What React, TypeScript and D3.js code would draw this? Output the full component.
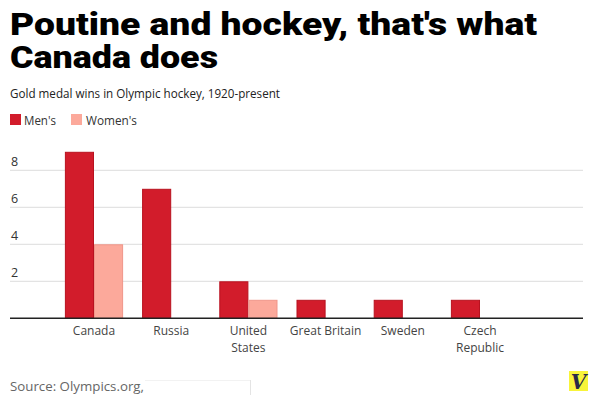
import React from "react";
import * as d3 from "d3";

const countries = ["Canada", "Russia", "United States", "Great Britain", "Sweden", "Czech Republic"];
const countryLabelLines = [["Canada"], ["Russia"], ["United", "States"], ["Great Britain"], ["Sweden"], ["Czech", "Republic"]];
const mensGold = [9, 7, 2, 1, 1, 1];
const womensGold = [4, 0, 1, 0, 0, 0];
const seriesNames = ["Men's", "Women's"];
const yTicks = [2, 4, 6, 8];
const titleLines = ["Poutine and hockey, that's what", "Canada does"];

const W = 599;
const H = 395;
const MEN = "#d21c2b";
const WOMEN = "#fca99b";
const TXT = "'Open Sans', 'Noto Sans', sans-serif";

export default function App() {
  const x0 = d3.scaleBand<string>().domain(countries).range([55.4, 518.6]).paddingInner(0.246).paddingOuter(0.123);
  const x1 = d3.scaleBand<string>().domain(seriesNames).range([0, x0.bandwidth()]);
  const y = d3.scaleLinear().domain([0, 9]).range([318.3, 151.8]);
  const gridX0 = 10;
  const gridX1 = 583;

  const rows = countries.map((c, i) => ({ c, vals: [mensGold[i], womensGold[i]] }));

  return (
    <svg width={W} height={H} style={{ position: "absolute", left: 0, top: 0, background: "#fff" }}>
      <rect x={0} y={0} width={W} height={H} fill="#fff" />
      <text fontFamily="Roboto, 'Liberation Sans', sans-serif" fontWeight={900} fontSize={32} fill="#000">
        <tspan x={10} y={35} textLength={527} lengthAdjust="spacingAndGlyphs">{titleLines[0]}</tspan>
        <tspan x={10} y={68} textLength={208} lengthAdjust="spacingAndGlyphs">{titleLines[1]}</tspan>
      </text>
      <text x={10} y={98} fontFamily={TXT} fontSize={12.5} fill="#222" textLength={270} lengthAdjust="spacingAndGlyphs">
        Gold medal wins in Olympic hockey, 1920-present
      </text>

      {/* legend */}
      <rect x={10} y={114} width={11} height={11} fill={MEN} />
      <text x={24} y={125} fontFamily={TXT} fontSize={12} fill="#333" textLength={32} lengthAdjust="spacingAndGlyphs">{seriesNames[0]}</text>
      <rect x={71} y={114} width={11} height={11} fill={WOMEN} />
      <text x={86} y={125} fontFamily={TXT} fontSize={12} fill="#333" textLength={51} lengthAdjust="spacingAndGlyphs">{seriesNames[1]}</text>

      {/* gridlines + y labels */}
      {yTicks.map((t) => (
        <g key={t}>
          <line x1={gridX0} x2={gridX1} y1={y(t)} y2={y(t)} stroke="#dcdcdc" strokeWidth={1} />
          <text x={11} y={y(t) - 4} fontFamily={TXT} fontSize={12.5} fill="#333">{t}</text>
        </g>
      ))}

      {/* bars */}
      {rows.map((r) => (
        <g key={r.c} transform={`translate(${x0(r.c)},0)`}>
          {r.vals.map((v, j) =>
            v > 0 ? (
              <rect
                key={j}
                x={x1(seriesNames[j])! + 0.5}
                y={y(v) + 0.5}
                width={x1.bandwidth() - 1}
                height={y(0) - y(v) - 0.5}
                fill={j === 0 ? MEN : WOMEN}
                stroke={j === 0 ? "#b8121f" : "#f0968a"}
                strokeWidth={1}
              />
            ) : null
          )}
        </g>
      ))}

      {/* baseline */}
      <line x1={gridX0} x2={gridX1} y1={y(0)} y2={y(0)} stroke="#222" strokeWidth={1.5} />

      {/* x labels */}
      {countries.map((c, i) => (
        <text key={c} x={x0(c)! + x0.bandwidth() / 2} y={335} textAnchor="middle" fontFamily={TXT} fontSize={12} fill="#444">
          {countryLabelLines[i].map((ln, k) => (
            <tspan key={k} x={x0(c)! + x0.bandwidth() / 2} dy={k === 0 ? 0 : 16.5}>{ln}</tspan>
          ))}
        </text>
      ))}

      {/* source */}
      <text x={10} y={391} fontFamily={TXT} fontSize={13} fill="#666" textLength={134} lengthAdjust="spacingAndGlyphs">
        Source: Olympics.org,
      </text>
      <line x1={145} x2={250} y1={380.5} y2={380.5} stroke="#f2f2f2" strokeWidth={1} />
      <line x1={250.5} x2={250.5} y1={380} y2={395} stroke="#e4e4e4" strokeWidth={1} />

      {/* logo */}
      <rect x={569} y={371} width={19} height={20} fill="#f8f43a" />
      <text x={578.5} y={389} textAnchor="middle" fontFamily="'DejaVu Serif', 'Liberation Serif', serif" fontStyle="italic" fontWeight={700} fontSize={20} fill="#2a2a48">V</text>
    </svg>
  );
}
